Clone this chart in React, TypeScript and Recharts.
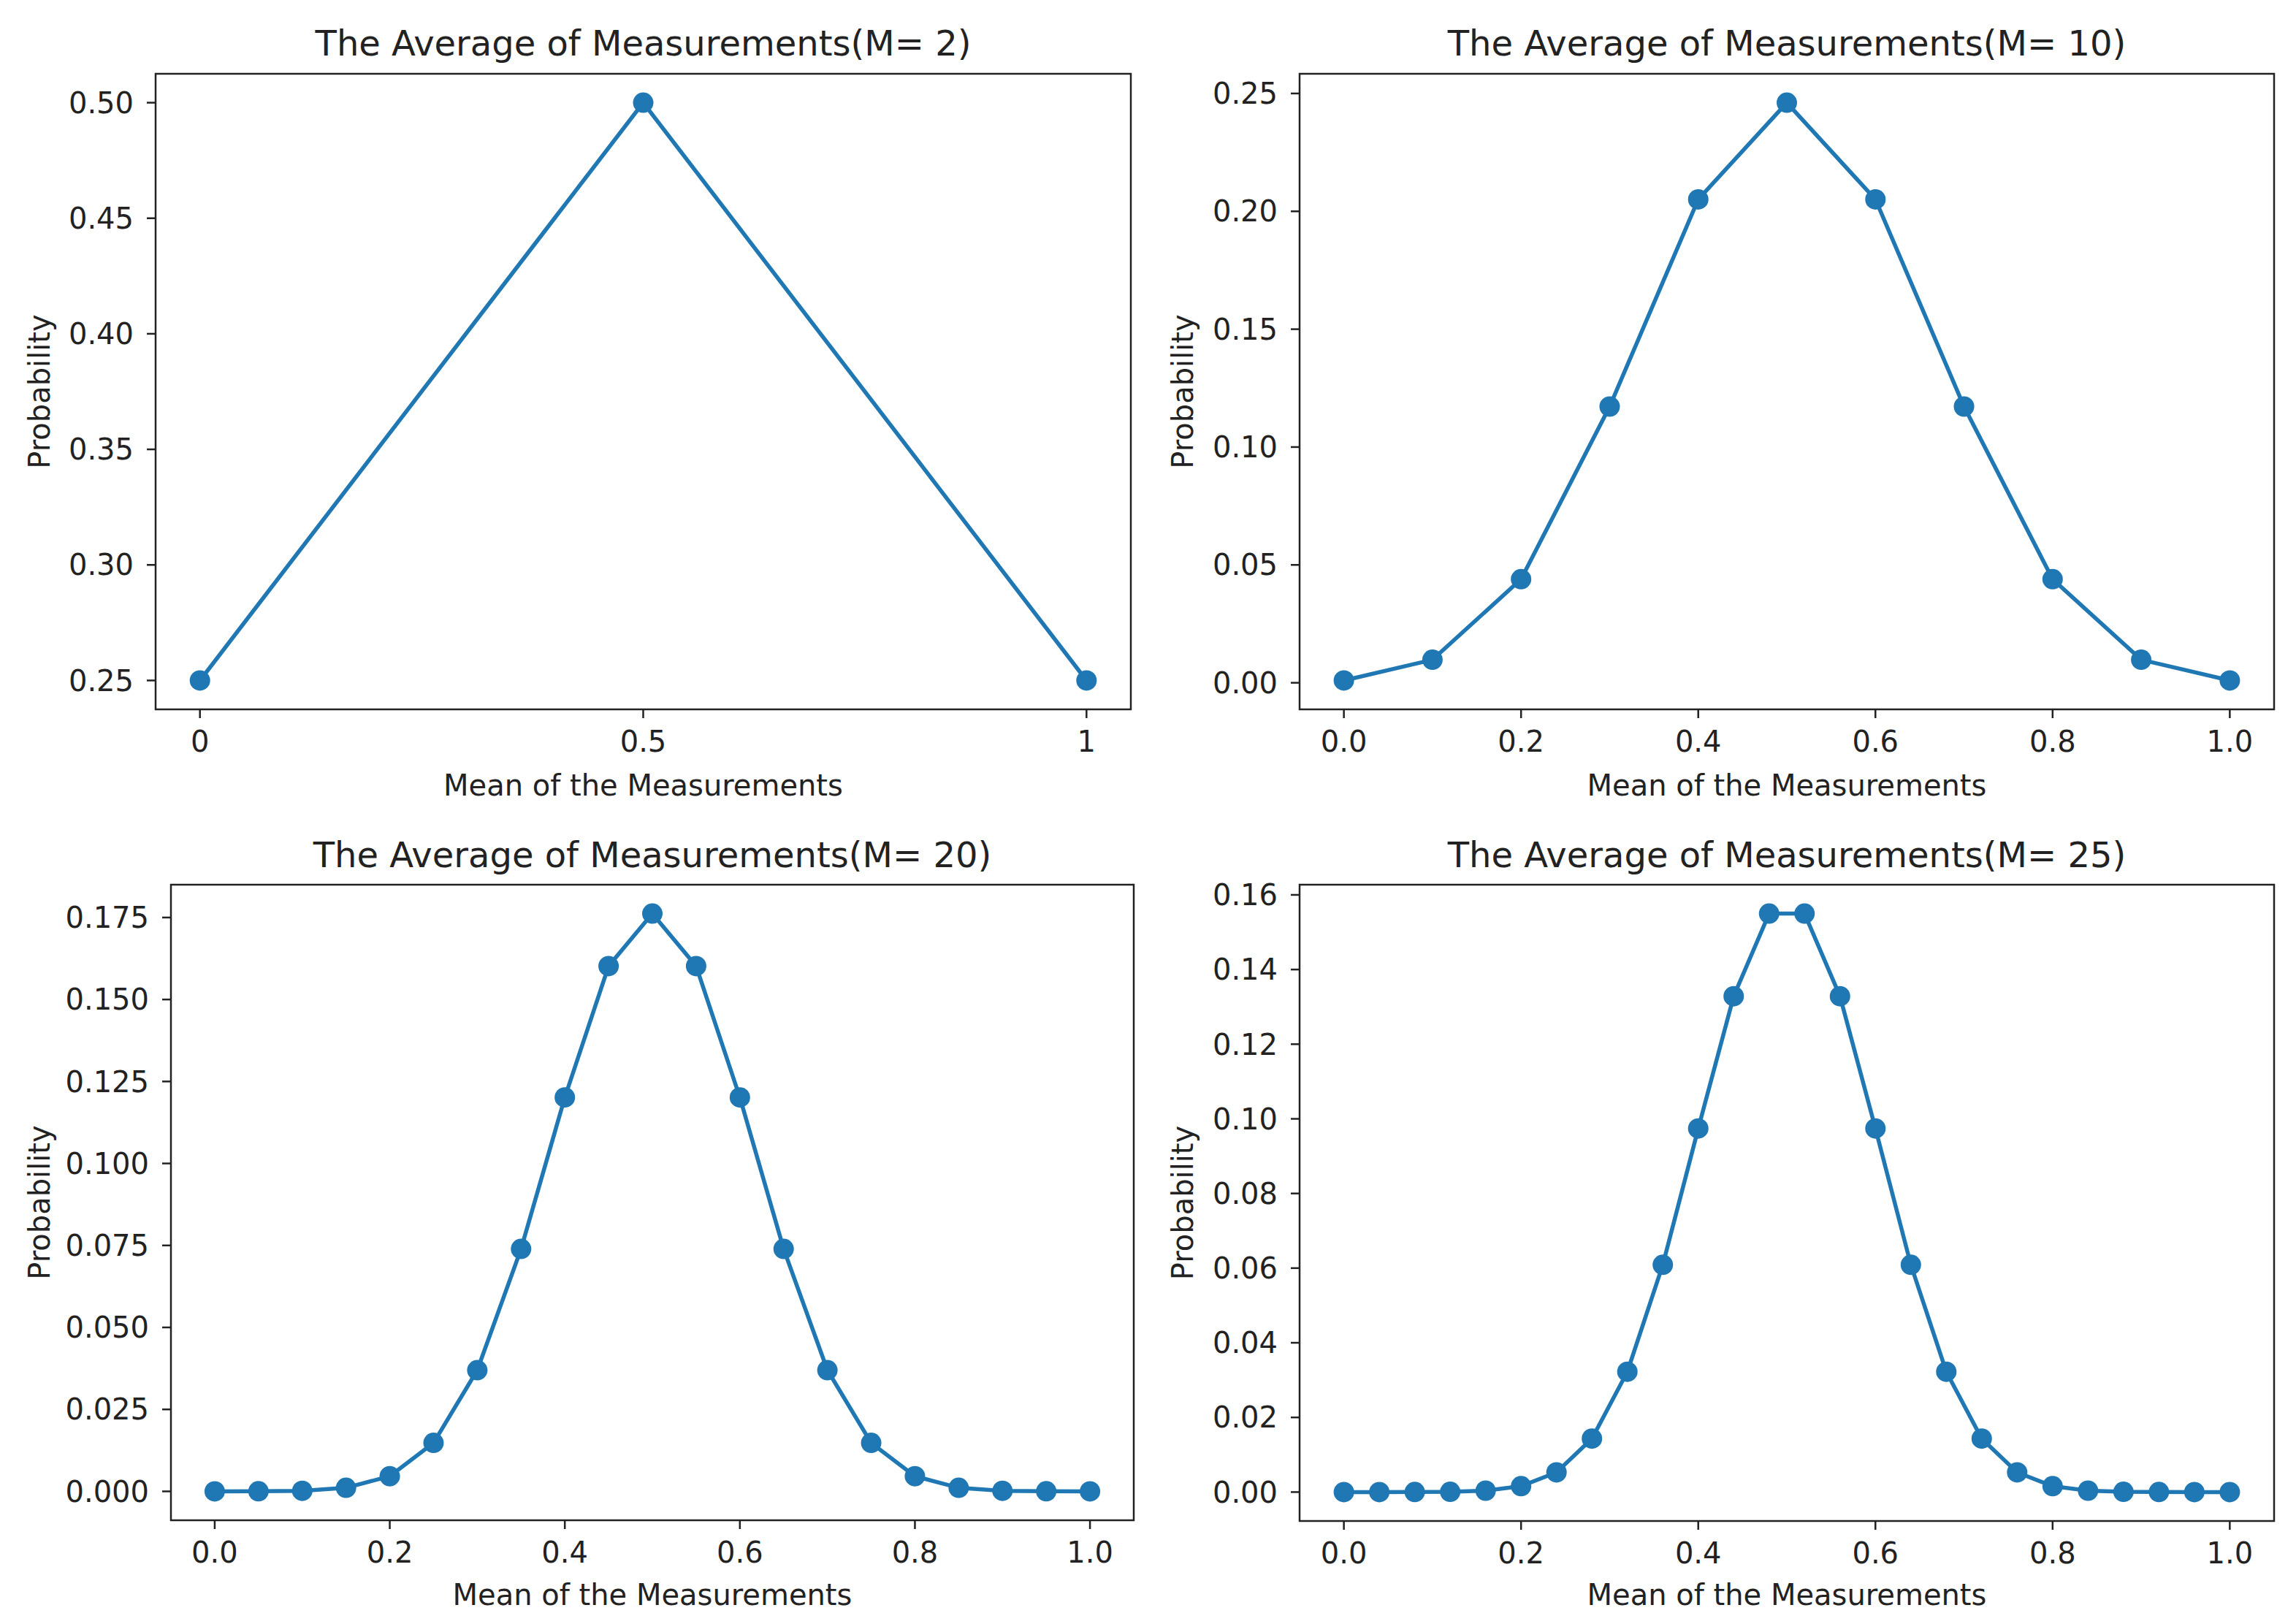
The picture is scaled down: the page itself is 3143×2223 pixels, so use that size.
import { LineChart, Line, XAxis, YAxis, ReferenceArea } from "recharts";

const BLUE = "#1f77b4";
const INK = "#222222";

// M = 2
const xM2 = [0, 0.5, 1];
const pM2 = [0.25, 0.5, 0.25];

// M = 10
const xM10 = [0, 0.1, 0.2, 0.3, 0.4, 0.5, 0.6, 0.7, 0.8, 0.9, 1.0];
const pM10 = [0.000977, 0.009766, 0.043945, 0.117188, 0.205078, 0.246094, 0.205078, 0.117188, 0.043945, 0.009766, 0.000977];

// M = 20
const xM20 = [0, 0.05, 0.1, 0.15, 0.2, 0.25, 0.3, 0.35, 0.4, 0.45, 0.5, 0.55, 0.6, 0.65, 0.7, 0.75, 0.8, 0.85, 0.9, 0.95, 1.0];
const pM20 = [
  0.000001, 0.000019, 0.000181, 0.001087, 0.004621, 0.014786, 0.036964, 0.073929, 0.120134, 0.160179, 0.176197,
  0.160179, 0.120134, 0.073929, 0.036964, 0.014786, 0.004621, 0.001087, 0.000181, 0.000019, 0.000001,
];

// M = 25
const xM25 = [
  0, 0.04, 0.08, 0.12, 0.16, 0.2, 0.24, 0.28, 0.32, 0.36, 0.4, 0.44, 0.48, 0.52, 0.56, 0.6, 0.64, 0.68, 0.72, 0.76,
  0.8, 0.84, 0.88, 0.92, 0.96, 1.0,
];
const pM25 = [
  0.0, 0.000001, 0.000009, 0.000069, 0.000377, 0.001583, 0.005278, 0.014326, 0.032233, 0.060885, 0.097417, 0.132841,
  0.154981, 0.154981, 0.132841, 0.097417, 0.060885, 0.032233, 0.014326, 0.005278, 0.001583, 0.000377, 0.000069,
  0.000009, 0.000001, 0.0,
];

const xTicksM2 = [0, 0.5, 1];
const xTicksDecimal = [0, 0.2, 0.4, 0.6, 0.8, 1.0];
const yTicksM2 = [0.25, 0.3, 0.35, 0.4, 0.45, 0.5];
const yTicksM10 = [0, 0.05, 0.1, 0.15, 0.2, 0.25];
const yTicksM20 = [0, 0.025, 0.05, 0.075, 0.1, 0.125, 0.15, 0.175];
const yTicksM25 = [0, 0.02, 0.04, 0.06, 0.08, 0.1, 0.12, 0.14, 0.16];

const zip = (xs: number[], ps: number[]) => xs.map((x, i) => ({ x, p: ps[i] }));

type Frame = { l: number; t: number; r: number; b: number };

interface PanelProps {
  title: string;
  frame: Frame;
  left: number;
  titleY: number;
  ylabelX: number;
  xlabelY: number;
  data: { x: number; p: number }[];
  yDomain: [number, number];
  yTicks: number[];
  yFmt: (v: number) => string;
  xTicks: number[];
  xFmt: (v: number) => string;
}

const MT = 10;
const MR = 10;
const XH = 130;

function Panel({ title, frame, left, titleY, ylabelX, xlabelY, data, yDomain, yTicks, yFmt, xTicks, xFmt }: PanelProps) {
  const yw = frame.l - left;
  const width = frame.r - left + MR;
  const height = frame.b - frame.t + MT + XH;
  const top = frame.t - MT;
  const tick = { fontSize: 40, fill: INK };
  const tickLine = { stroke: INK, strokeWidth: 2.5 };
  return (
    <>
      <div
        style={{
          position: "absolute",
          left: frame.l,
          width: frame.r - frame.l,
          top: titleY - 24,
          fontSize: 48,
          lineHeight: "48px",
          textAlign: "center",
          color: INK,
        }}
      >
        {title}
      </div>
      <div style={{ position: "absolute", left, top }}>
        <LineChart width={width} height={height} data={data} margin={{ top: MT, right: MR, bottom: 0, left: 0 }}>
          <XAxis
            type="number"
            dataKey="x"
            domain={[-0.05, 1.05]}
            ticks={xTicks}
            tickFormatter={xFmt}
            height={XH}
            axisLine={false}
            tickSize={12}
            tickMargin={18}
            tickLine={tickLine}
            tick={tick}
            label={{
              value: "Mean of the Measurements",
              position: "insideBottom",
              offset: frame.b + XH - (xlabelY + 15),
              style: { fontSize: 40, fill: INK },
            }}
          />
          <YAxis
            type="number"
            domain={yDomain}
            ticks={yTicks}
            tickFormatter={yFmt}
            width={yw}
            axisLine={false}
            tickSize={12}
            tickMargin={18}
            tickLine={tickLine}
            tick={tick}
            allowDataOverflow
            label={{
              value: "Probability",
              angle: -90,
              position: "insideLeft",
              offset: ylabelX - left,
              style: { fontSize: 40, fill: INK, textAnchor: "middle" },
            }}
          />
          <ReferenceArea
            x1={-0.05}
            x2={1.05}
            y1={yDomain[0]}
            y2={yDomain[1]}
            fill="none"
            stroke={INK}
            strokeWidth={2.5}
            ifOverflow="visible"
          />
          <Line
            type="linear"
            dataKey="p"
            stroke={BLUE}
            strokeWidth={5.5}
            dot={{ r: 14, fill: BLUE, stroke: BLUE, strokeWidth: 0 }}
            isAnimationActive={false}
          />
        </LineChart>
      </div>
    </>
  );
}

export default function App() {
  return (
    <div
      style={{
        position: "absolute",
        left: 0,
        top: 0,
        width: 3143,
        height: 2223,
        background: "#fff",
        fontFamily: "'DejaVu Sans', sans-serif",
        overflow: "hidden",
      }}
    >
      <Panel
        title="The Average of Measurements(M= 2)"
        frame={{ l: 213, t: 101, r: 1548, b: 971 }}
        left={0}
        titleY={59}
        ylabelX={54}
        xlabelY={1074}
        data={zip(xM2, pM2)}
        yDomain={[0.2375, 0.5125]}
        yTicks={yTicksM2}
        yFmt={v => v.toFixed(2)}
        xTicks={xTicksM2}
        xFmt={v => String(v)}
      />
      <Panel
        title="The Average of Measurements(M= 10)"
        frame={{ l: 1779, t: 101, r: 3113, b: 971 }}
        left={1579}
        titleY={59}
        ylabelX={1619}
        xlabelY={1074}
        data={zip(xM10, pM10)}
        yDomain={[-0.01128, 0.25835]}
        yTicks={yTicksM10}
        yFmt={v => v.toFixed(2)}
        xTicks={xTicksDecimal}
        xFmt={v => v.toFixed(1)}
      />
      <Panel
        title="The Average of Measurements(M= 20)"
        frame={{ l: 234, t: 1211, r: 1552, b: 2081 }}
        left={0}
        titleY={1170}
        ylabelX={54}
        xlabelY={2182}
        data={zip(xM20, pM20)}
        yDomain={[-0.00881, 0.18501]}
        yTicks={yTicksM20}
        yFmt={v => v.toFixed(3)}
        xTicks={xTicksDecimal}
        xFmt={v => v.toFixed(1)}
      />
      <Panel
        title="The Average of Measurements(M= 25)"
        frame={{ l: 1779, t: 1211, r: 3113, b: 2082 }}
        left={1579}
        titleY={1170}
        ylabelX={1619}
        xlabelY={2182}
        data={zip(xM25, pM25)}
        yDomain={[-0.00775, 0.16273]}
        yTicks={yTicksM25}
        yFmt={v => v.toFixed(2)}
        xTicks={xTicksDecimal}
        xFmt={v => v.toFixed(1)}
      />
    </div>
  );
}
